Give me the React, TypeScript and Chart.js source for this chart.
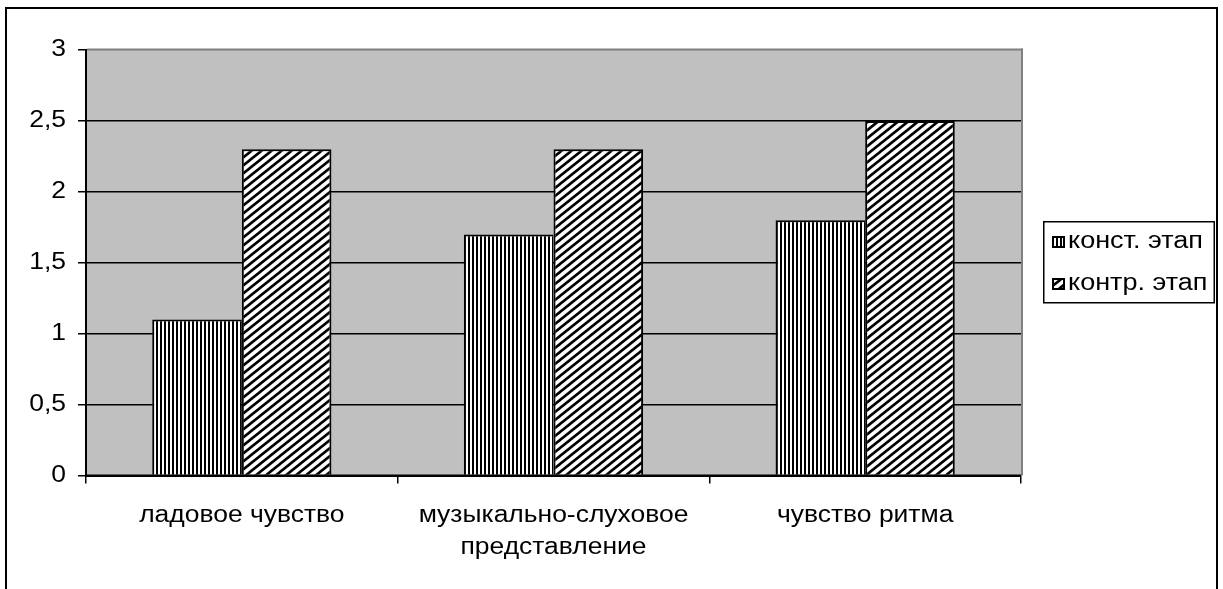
import React, { useEffect, useRef } from 'react';
import { Chart, registerables } from 'chart.js';

Chart.register(...registerables);

// ---- data ----
const categories: (string | string[])[] = [
  'ладовое чувство',
  ['музыкально-слуховое', 'представление'],
  'чувство ритма',
];
const seriesNames = ['конст. этап', 'контр. этап'];
const konstValues = [1.1, 1.7, 1.8];
const kontrValues = [2.3, 2.3, 2.5];
const yMin = 0;
const yMax = 3;
const yStep = 0.5;

// ---- layout / style ----
const W = 1223;
const H = 589;
const PLOT_LEFT = 86;
const PLOT_RIGHT = 1021;
const PLOT_TOP = 50;
const PLOT_BOTTOM = 475.5;
const TEXT_X_SCALE = 1.15;
const FONT_FAMILY = '"Liberation Sans", Arial, sans-serif';
const FONT_SIZE = 23;
const LEGEND_FONT_SIZE = 23.5;

function makeVerticalPattern(ctx: CanvasRenderingContext2D): CanvasPattern {
  const c = document.createElement('canvas');
  c.width = 4;
  c.height = 4;
  const g = c.getContext('2d')!;
  g.fillStyle = '#fff';
  g.fillRect(0, 0, 4, 4);
  g.fillStyle = '#000';
  g.fillRect(0, 0, 2, 4);
  return ctx.createPattern(c, 'repeat')!;
}

function makeDiagonalPattern(ctx: CanvasRenderingContext2D): CanvasPattern {
  const c = document.createElement('canvas');
  c.width = 10;
  c.height = 8;
  const g = c.getContext('2d')!;
  g.fillStyle = '#fff';
  g.fillRect(0, 0, 10, 8);
  g.strokeStyle = '#000';
  g.lineWidth = 2.6;
  for (let k = -1; k <= 1; k++) {
    g.beginPath();
    g.moveTo(k * 10 - 5, 12);
    g.lineTo(k * 10 + 15, -4);
    g.stroke();
  }
  return ctx.createPattern(c, 'repeat')!;
}

function patchTextScale(ctx: CanvasRenderingContext2D) {
  const origFill = ctx.fillText.bind(ctx);
  const origMeasure = ctx.measureText.bind(ctx);
  (ctx as any).fillText = (t: string, x: number, y: number, mw?: number) => {
    ctx.save();
    ctx.translate(x, y);
    ctx.scale(TEXT_X_SCALE, 1);
    if (mw !== undefined && mw !== null) origFill(t, 0, 0, mw / TEXT_X_SCALE);
    else origFill(t, 0, 0);
    ctx.restore();
  };
  (ctx as any).measureText = (t: string) => {
    const m = origMeasure(t);
    return {
      width: m.width * TEXT_X_SCALE,
      actualBoundingBoxAscent: m.actualBoundingBoxAscent,
      actualBoundingBoxDescent: m.actualBoundingBoxDescent,
      actualBoundingBoxLeft: m.actualBoundingBoxLeft * TEXT_X_SCALE,
      actualBoundingBoxRight: m.actualBoundingBoxRight * TEXT_X_SCALE,
      fontBoundingBoxAscent: m.fontBoundingBoxAscent,
      fontBoundingBoxDescent: m.fontBoundingBoxDescent,
    };
  };
}

export default function App() {
  const ref = useRef<HTMLCanvasElement | null>(null);

  useEffect(() => {
    const canvas = ref.current;
    if (!canvas) return;
    const ctx0 = canvas.getContext('2d')!;
    patchTextScale(ctx0);
    const vPattern = makeVerticalPattern(ctx0);
    const dPattern = makeDiagonalPattern(ctx0);

    const font = { family: FONT_FAMILY, size: FONT_SIZE, lineHeight: 1.4 };

    const decorPlugin = {
      id: 'decor',
      beforeDraw(chart: any) {
        const { ctx, chartArea: a } = chart;
        ctx.save();
        ctx.fillStyle = '#fff';
        ctx.fillRect(0, 0, W, H);
        ctx.fillStyle = '#000';
        ctx.fillRect(5, 7, 1213, 2);
        ctx.fillRect(5, 7, 2, H);
        ctx.fillRect(1216, 7, 2, H);
        ctx.fillStyle = '#c0c0c0';
        ctx.fillRect(a.left, a.top, a.right - a.left, a.bottom - a.top);
        ctx.restore();
      },
      afterDatasetsDraw(chart: any) {
        const { ctx, chartArea: a } = chart;
        ctx.save();
        ctx.fillStyle = '#808080';
        ctx.fillRect(a.left + 1, a.top - 1.5, a.right - a.left + 1, 2);
        ctx.fillRect(a.right, a.top - 1.5, 2, a.bottom - a.top + 1.5);
        ctx.fillStyle = '#000';
        ctx.fillRect(a.left - 1, a.bottom - 1, a.right - a.left + 1, 2);
        ctx.restore();
      },
      afterDraw(chart: any) {
        const { ctx } = chart;
        ctx.save();
        ctx.strokeStyle = '#000';
        ctx.lineWidth = 1.5;
        ctx.strokeRect(1043.75, 221.75, 170.5, 81);
        ctx.font = `${LEGEND_FONT_SIZE}px ${FONT_FAMILY}`;
        ctx.textAlign = 'left';
        ctx.textBaseline = 'middle';
        const ys = [242, 284];
        chart.data.datasets.forEach((ds: any, i: number) => {
          const y = ys[i];
          ctx.fillStyle = ds.backgroundColor;
          ctx.fillRect(1053, y - 5, 11, 10);
          ctx.lineWidth = 2;
          ctx.strokeRect(1053, y - 5, 11, 10);
          ctx.fillStyle = '#000';
          ctx.fillText(ds.label, 1068, y);
        });
        ctx.restore();
      },
    };

    const chart = new Chart(canvas, {
      type: 'bar',
      data: {
        labels: categories,
        datasets: [
          {
            label: seriesNames[0],
            data: konstValues,
            backgroundColor: vPattern as any,
            borderColor: '#000',
            borderWidth: { top: 2, left: 2, right: 0, bottom: 0 },
            borderSkipped: 'start',
            categoryPercentage: 0.575,
            barPercentage: 1,
          },
          {
            label: seriesNames[1],
            data: kontrValues,
            backgroundColor: dPattern as any,
            borderColor: '#000',
            borderWidth: { top: 2, left: 2, right: 2, bottom: 0 },
            borderSkipped: 'start',
            categoryPercentage: 0.575,
            barPercentage: 1,
          },
        ],
      },
      options: {
        animation: false,
        responsive: false,
        events: [],
        layout: { padding: { left: 0, top: PLOT_TOP, right: W - PLOT_RIGHT, bottom: 0 } },
        plugins: { legend: { display: false }, tooltip: { enabled: false } },
        scales: {
          x: {
            type: 'category',
            offset: true,
            grid: {
              offset: true,
              drawOnChartArea: false,
              drawTicks: true,
              tickLength: 8,
              color: '#000',
              tickColor: '#000',
              lineWidth: 1.5,
            },
            border: { display: true, color: '#000', width: 2 },
            ticks: { color: '#000', font, padding: 16, maxRotation: 0, autoSkip: false },
            afterFit: (s: any) => {
              s.height = H - PLOT_BOTTOM;
            },
          },
          y: {
            min: yMin,
            max: yMax,
            ticks: {
              stepSize: yStep,
              color: '#000',
              font,
              padding: 12,
              callback: (v: any) => String(v).replace('.', ','),
            },
            grid: {
              color: (c: any) => (c.tick && c.tick.value === yMax ? 'rgba(0,0,0,0)' : '#000'),
              tickColor: '#000',
              tickLength: 8,
              lineWidth: 1.5,
              drawTicks: true,
            },
            border: { display: true, color: '#000', width: 2 },
            afterFit: (s: any) => {
              s.width = PLOT_LEFT;
            },
          },
        },
      },
      plugins: [decorPlugin],
    });

    return () => chart.destroy();
  }, []);

  return (
    <div style={{ position: 'absolute', left: 0, top: 0, width: W, height: H, background: '#fff' }}>
      <canvas ref={ref} width={W} height={H} style={{ display: 'block', width: W, height: H }} />
    </div>
  );
}
